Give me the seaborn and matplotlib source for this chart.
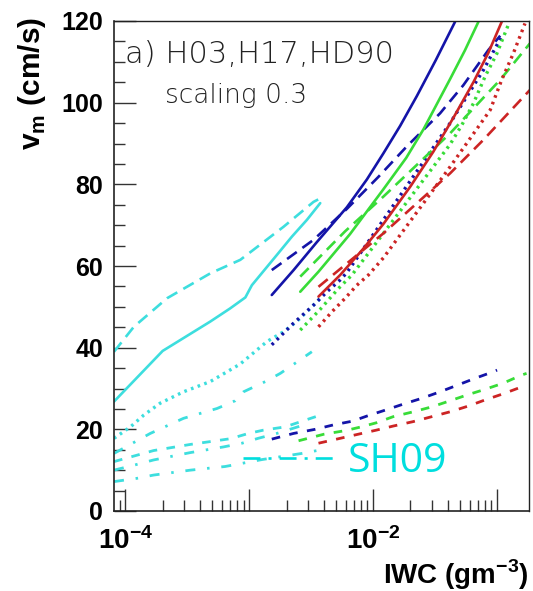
import matplotlib
matplotlib.use("Agg")
import matplotlib.pyplot as plt
import seaborn as sns
import pandas as pd
from matplotlib.lines import Line2D
from matplotlib.ticker import FixedLocator, FixedFormatter, LogLocator, NullFormatter

# ---------------- data (IWC in g m^-3, v_m in cm/s) ----------------
# SH09 (cyan)
sh_solid_x = [8.1e-5, 2.0e-4, 4.85e-4, 7.0e-4, 9.3e-4, 1.05e-3, 1.67e-3, 2.21e-3, 2.92e-3, 3.74e-3]
sh_solid_y = [26.8, 39.2, 46.4, 49.6, 52.3, 55.3, 62.7, 67.2, 71.3, 75.4]
sh_dash_x = [8.1e-5, 1.17e-4, 2.17e-4, 4.85e-4, 8.46e-4, 1.89e-3, 3.3e-3, 3.6e-3]
sh_dash_y = [39.0, 45.1, 52.1, 58.2, 61.5, 69.6, 75.7, 76.3]
sh_dot_x = [8.1e-5, 1.1e-4, 1.41e-4, 1.91e-4, 2.95e-4, 4.85e-4, 8.46e-4, 1.39e-3, 1.89e-3, 2.42e-3, 3.01e-3, 3.74e-3]
sh_dot_y = [17.8, 20.6, 23.5, 26.4, 29.2, 31.7, 36.0, 41.5, 43.9, 46.4, 49.2, 52.1]
sh_dd1_x = [8.1e-5, 1.59e-4, 2.95e-4, 5.49e-4, 7.7e-4, 9.0e-4, 1.35e-3, 1.78e-3, 2.35e-3, 3.2e-3]
sh_dd1_y = [14.1, 19.0, 22.7, 25.1, 27.0, 29.2, 31.7, 33.7, 36.2, 39.0]
sh_dlow_x = [8.1e-5, 1.69e-4, 3.34e-4, 4.85e-4, 7.03e-4, 9.87e-4, 1.30e-3, 1.95e-3, 2.67e-3, 3.6e-3]
sh_dlow_y = [12.1, 14.8, 16.3, 17.0, 17.7, 19.0, 19.8, 20.6, 22.0, 23.3]
sh_dd2_x = [8.1e-5, 1.2e-4, 1.69e-4, 3.34e-4, 6.21e-4, 8.73e-4, 1.18e-3, 1.67e-3, 2.58e-3]
sh_dd2_y = [10.0, 11.3, 12.5, 14.3, 15.7, 16.6, 17.8, 19.0, 20.8]
sh_dd3_x = [8.1e-5, 1.24e-4, 1.69e-4, 3.34e-4, 6.4e-4, 1.27e-3, 2.66e-3, 3.52e-3]
sh_dd3_y = [7.2, 8.0, 8.8, 10.0, 10.9, 12.6, 14.1, 14.8]

# blue
b_solid_x = [1.52e-3, 2.28e-3, 3.5e-3, 6.14e-3, 8.9e-3, 1.21e-2, 1.65e-2, 2.25e-2, 3.2e-2, 4.58e-2]
b_solid_y = [52.9, 59.0, 65.8, 74.4, 81.2, 87.6, 94.3, 101.6, 110.4, 119.8]
b_dash_x = [1.52e-3, 3.3e-3, 6.14e-3, 1.1e-2, 1.87e-2, 3.47e-2, 5.35e-2, 8.51e-2, 0.106]
b_dash_y = [59.0, 66.4, 74.0, 81.8, 89.3, 97.4, 104.3, 112.9, 116.4]
b_dot_x = [1.52e-3, 2.28e-3, 3.3e-3, 4.24e-3, 5.42e-3, 6.14e-3, 1.21e-2, 4.18e-2, 7.76e-2, 0.11]
b_dot_y = [40.7, 46.0, 50.4, 53.7, 56.6, 58.4, 71.3, 95.0, 108.0, 116.5]
b_low_x = [1.52e-3, 2.28e-3, 3.4e-3, 4.8e-3, 6.8e-3, 9.0e-3, 1.25e-2, 1.76e-2, 2.47e-2, 3.47e-2, 4.86e-2, 6.65e-2, 9.3e-2, 0.1]
b_low_y = [17.6, 19.0, 20.0, 21.1, 22.0, 23.3, 24.7, 26.2, 27.6, 29.2, 30.9, 32.5, 34.1, 34.5]

# green
g_solid_x = [2.58e-3, 3.62e-3, 6.5e-3, 1.21e-2, 1.85e-2, 2.55e-2, 4.18e-2, 5.5e-2, 7.07e-2]
g_solid_y = [53.7, 58.6, 67.8, 78.8, 86.5, 93.5, 105.8, 112.8, 119.8]
g_dash_x = [2.58e-3, 5.94e-3, 1.21e-2, 4.18e-2, 0.106, 0.184]
g_dash_y = [57.4, 68.5, 77.0, 92.5, 105.6, 114.5]
g_dot_x = [2.58e-3, 3.74e-3, 5.25e-3, 6.74e-3, 1.21e-2, 4.18e-2, 5.19e-2, 6.44e-2, 8.0e-2, 9.95e-2, 0.123]
g_dot_y = [44.3, 49.4, 54.5, 57.8, 68.0, 89.8, 94.5, 99.8, 106.4, 112.0, 119.0]
g_low_x = [2.5e-3, 4.0e-3, 6.0e-3, 8.0e-3, 1.06e-2, 1.45e-2, 2.11e-2, 2.97e-2, 4.18e-2, 5.7e-2, 8.0e-2, 0.112, 0.158, 0.173]
g_low_y = [17.2, 18.8, 19.7, 20.6, 21.6, 23.1, 24.3, 25.5, 27.0, 28.4, 29.8, 31.3, 33.3, 33.7]

# red
r_solid_x = [3.62e-3, 5.42e-3, 8.2e-3, 1.21e-2, 2.0e-2, 3.06e-2, 4.5e-2, 6.44e-2, 8.5e-2, 0.109]
r_solid_y = [52.5, 57.8, 64.0, 70.3, 79.5, 88.0, 96.6, 105.0, 112.2, 119.8]
r_dash_x = [3.62e-3, 1.21e-2, 4.18e-2, 7.76e-2, 0.184]
r_dash_y = [54.9, 68.0, 82.7, 90.9, 103.1]
r_dot_x = [3.62e-3, 4.65e-3, 5.94e-3, 7.39e-3, 9.16e-3, 1.21e-2, 4.18e-2, 8.8e-2, 0.109, 0.135, 0.168]
r_dot_y = [45.1, 48.8, 52.1, 55.3, 57.8, 62.0, 84.3, 98.2, 105.6, 112.0, 119.4]
r_low_x = [3.62e-3, 5.42e-3, 7.57e-3, 1.06e-2, 1.45e-2, 2.11e-2, 2.97e-2, 4.18e-2, 5.86e-2, 8.0e-2, 0.112, 0.158, 0.173]
r_low_y = [16.6, 17.8, 18.8, 19.8, 20.8, 21.9, 23.1, 24.3, 25.7, 27.2, 28.7, 30.4, 30.9]

x_ticks = [1e-4, 1e-3, 1e-2, 1e-1]
x_tick_labels = [r"$\mathbf{10^{-4}}$", "", r"$\mathbf{10^{-2}}$", ""]
y_ticks = [0, 20, 40, 60, 80, 100, 120]

# ---------------- style ----------------
sns.set_style("white")
plt.rcParams["font.family"] = ["Liberation Sans", "DejaVu Sans"]
plt.rcParams["mathtext.fontset"] = "custom"
plt.rcParams["mathtext.bf"] = "Liberation Sans:bold"
plt.rcParams["mathtext.rm"] = "Liberation Sans"
plt.rcParams["lines.scale_dashes"] = False
plt.rcParams["text.color"] = "black"
plt.rcParams["axes.labelcolor"] = "black"
plt.rcParams["xtick.color"] = "black"
plt.rcParams["ytick.color"] = "black"

CYAN = "#3ddede"
BLUE = "#1414a8"
GREEN = "#38dc38"
RED = "#cc2424"

styles = {
    "solid": dict(linestyle="-", lw=1.9),
    "dash": dict(linestyle=(0, (8.6, 5.0)), lw=1.9),
    "dot": dict(linestyle=(0, (1.9, 3.2)), lw=2.4),
    "dlow": dict(linestyle=(0, (6.2, 6.8)), lw=2.0),
    "dd": dict(linestyle=(0, (7.2, 8.5, 1.8, 8.5)), lw=2.0),
}

series = [
    (sh_solid_x, sh_solid_y, CYAN, "solid"),
    (sh_dash_x, sh_dash_y, CYAN, "dash"),
    (sh_dot_x, sh_dot_y, CYAN, "dot"),
    (sh_dd1_x, sh_dd1_y, CYAN, "dd"),
    (sh_dlow_x, sh_dlow_y, CYAN, "dlow"),
    (sh_dd2_x, sh_dd2_y, CYAN, "dd"),
    (sh_dd3_x, sh_dd3_y, CYAN, "dd"),
    (b_solid_x, b_solid_y, BLUE, "solid"),
    (b_dash_x, b_dash_y, BLUE, "dash"),
    (b_dot_x, b_dot_y, BLUE, "dot"),
    (b_low_x, b_low_y, BLUE, "dlow"),
    (g_solid_x, g_solid_y, GREEN, "solid"),
    (g_dash_x, g_dash_y, GREEN, "dash"),
    (g_dot_x, g_dot_y, GREEN, "dot"),
    (g_low_x, g_low_y, GREEN, "dlow"),
    (r_solid_x, r_solid_y, RED, "solid"),
    (r_dash_x, r_dash_y, RED, "dash"),
    (r_dot_x, r_dot_y, RED, "dot"),
    (r_low_x, r_low_y, RED, "dlow"),
]

fig = plt.figure(figsize=(5.33, 5.91), dpi=100)
ax = fig.add_axes([114 / 533, 80 / 591, 415 / 533, 490 / 591])

for xs, ys, col, st in series:
    df = pd.DataFrame({"iwc": xs, "v": ys})
    sns.lineplot(data=df, x="iwc", y="v", ax=ax, color=col,
                 estimator=None, sort=False, legend=False, **styles[st])

ax.set_xscale("log")
ax.set_xlim(8.1e-5, 0.181)
ax.set_ylim(0, 120)

ax.xaxis.set_major_locator(FixedLocator(x_ticks))
ax.xaxis.set_major_formatter(FixedFormatter(x_tick_labels))
ax.xaxis.set_minor_locator(LogLocator(base=10, subs=[2, 3, 4, 5, 6, 7, 8, 9], numticks=20))
ax.xaxis.set_minor_formatter(NullFormatter())
ax.yaxis.set_major_locator(FixedLocator(y_ticks))
ax.yaxis.set_minor_locator(FixedLocator(list(range(0, 121, 5))))

ax.tick_params(axis="both", which="major", direction="in", length=15.5, width=1.0,
               color="#333333", labelcolor="black",
               bottom=True, left=True, top=False, right=False)
ax.tick_params(axis="both", which="minor", direction="in", length=7.8, width=1.0,
               color="#333333", bottom=True, left=True, top=False, right=False)
ax.tick_params(axis="y", which="major", pad=8, labelsize=18)
ax.tick_params(axis="x", which="major", pad=12, labelsize=20)
for lbl in ax.get_yticklabels():
    lbl.set_fontweight("bold")

for s in ax.spines.values():
    s.set_color("#222222")
    s.set_linewidth(1.0)
ax.spines["left"].set_linewidth(1.2)
ax.spines["bottom"].set_linewidth(1.2)

ax.set_xlabel(r"IWC (gm$^{\mathbf{-3}}$)", fontsize=20, fontweight="bold", loc="right", color="black")
ax.xaxis.set_label_coords(1.0, -0.094)
ax.set_ylabel(r"v$_{\mathbf{m}}$ (cm/s)", fontsize=21.5, fontweight="bold", loc="top", color="black")
ax.yaxis.set_label_coords(-0.159, 1.008)

ax.text(0.0265, 0.914, "a) H03,H17,HD90", transform=ax.transAxes, fontsize=22,
        family="DejaVu Sans", fontweight="light", color="#222222", va="baseline", ha="left")
ax.text(0.123, 0.833, "scaling 0.3", transform=ax.transAxes, fontsize=19,
        family="DejaVu Sans", fontweight="light", color="#222222", va="baseline", ha="left")

handle = Line2D([], [], color="#00dede", lw=1.9, linestyle=(0, (12.2, 5.8, 2.2, 5.8)))
ax.legend(handles=[handle], labels=["SH09"], loc="center left", bbox_to_anchor=(0.311, 0.1),
          frameon=False, borderpad=0, borderaxespad=0, handlelength=2.3, handletextpad=0.26,
          prop={"family": "Open Sans", "size": 29.5, "weight": "normal"}, labelcolor="#00dede")

fig.savefig("out.png", dpi=100)
